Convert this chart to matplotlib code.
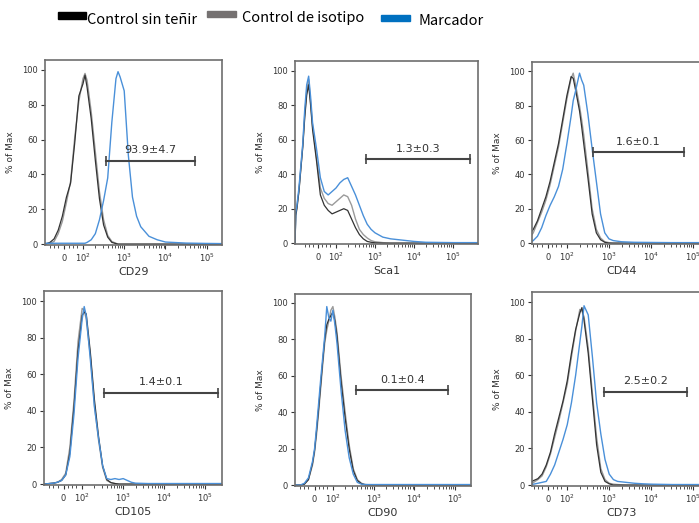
import matplotlib
matplotlib.use("Agg")
import matplotlib.pyplot as plt
from matplotlib.patches import Rectangle
import numpy as np

# x values are in "decade" units of the biexponential axis (2 -> 10^2, 3 -> 10^3 ...)
tick_pos = [1.55, 2, 3, 4, 5]
tick_labels = [r"$0$", r"$10^2$", r"$10^3$", r"$10^4$", r"$10^5$"]

# CD29
cd29_x = [1.08, 1.2, 1.3, 1.4, 1.5, 1.6, 1.7, 1.8, 1.9, 2.0, 2.05, 2.1, 2.2, 2.3, 2.4, 2.5, 2.6,
          2.7, 2.8, 2.85, 2.9, 3.0, 3.1, 3.2, 3.3, 3.4, 3.6, 3.8, 4.0, 4.5, 5.0, 5.37]
cd29_unst = [0, 1, 3, 8, 16, 27, 35, 58, 85, 92, 97, 90, 72, 48, 26, 11, 4,
             1, 0.3, 0, 0, 0, 0, 0, 0, 0, 0, 0, 0, 0, 0, 0]
cd29_iso = [0, 0.5, 1.5, 6, 13, 24, 36, 61, 82, 95, 98, 94, 76, 53, 30, 14, 5,
            1.5, 0.5, 0, 0, 0, 0, 0, 0, 0, 0, 0, 0, 0, 0, 0]
cd29_mark = [0.5, 0.5, 0.5, 0.5, 0.5, 0.5, 0.5, 0.5, 0.5, 0.5, 0.5, 1, 2.5, 6, 14, 25, 38,
             70, 95, 99, 96, 88, 51, 27, 16, 10, 4.5, 2.5, 1.2, 0.6, 0.4, 0.3]

# Sca1
sca1_x = [0.95, 0.97, 1.0, 1.05, 1.1, 1.15, 1.2, 1.25, 1.3, 1.35, 1.4, 1.5, 1.6, 1.7, 1.8, 1.9,
          2.0, 2.1, 2.2, 2.3, 2.4, 2.5, 2.6, 2.7, 2.8, 2.9, 3.0, 3.2, 3.4, 3.6, 3.8, 4.0, 4.3,
          5.0, 5.64]
sca1_unst = [0, 16, 20, 30, 43, 56, 73, 86, 92, 80, 66, 48, 28, 22, 19, 17,
             18, 19, 20, 19, 14, 9, 5, 2.5, 1, 0.5, 0.2, 0, 0, 0, 0, 0, 0, 0, 0]
sca1_iso = [0, 17, 22, 30, 44, 57, 75, 88, 95, 82, 68, 50, 32, 26, 23, 22,
            24, 26, 28, 27, 22, 14, 8, 5, 3, 1.5, 0.8, 0.3, 0, 0, 0, 0, 0, 0, 0]
sca1_mark = [0, 18, 22, 32, 45, 58, 78, 92, 97, 85, 70, 55, 38, 30, 28, 30,
             32, 35, 37, 38, 33, 28, 22, 16, 11, 8, 6, 3.5, 2.5, 2, 1.5, 1, 0.5, 0.3, 0.3]

# CD44
cd44_x = [1.17, 1.2, 1.3, 1.4, 1.5, 1.6, 1.7, 1.8, 1.9, 2.0, 2.1, 2.15, 2.2, 2.3, 2.35, 2.4,
          2.5, 2.6, 2.7, 2.8, 2.9, 3.0, 3.1, 3.3, 3.6, 4.0, 4.5, 5.0, 5.45]
cd44_unst = [7, 8, 13, 20, 27, 36, 47, 58, 72, 86, 97, 96, 90, 77, 68, 58,
             38, 17, 6, 2, 0.5, 0, 0, 0, 0, 0, 0, 0, 0]
cd44_iso = [5, 6, 12, 18, 25, 34, 45, 56, 70, 84, 96, 99, 93, 80, 72, 63,
            42, 20, 8, 3, 0.8, 0.3, 0, 0, 0, 0, 0, 0, 0]
cd44_mark = [1, 1.5, 4, 9, 16, 22, 27, 33, 43, 58, 74, 83, 88, 99, 95, 92,
             75, 55, 36, 17, 6, 2.5, 1.5, 0.8, 0.5, 0.4, 0.3, 0.3, 0.3]

# CD105
cd105_x = [1.07, 1.2, 1.3, 1.4, 1.5, 1.6, 1.7, 1.8, 1.9, 2.0, 2.05, 2.1, 2.2, 2.3, 2.4, 2.5,
           2.6, 2.7, 2.8, 2.9, 3.0, 3.1, 3.2, 3.3, 3.6, 4.0, 4.5, 5.0, 5.41]
cd105_unst = [0, 0.3, 0.5, 1, 2, 5, 17, 42, 73, 92, 94, 93, 72, 46, 26, 10,
              2.5, 0.8, 0.3, 0, 0, 0, 0, 0, 0, 0, 0, 0, 0]
cd105_iso = [0, 0.3, 0.5, 1, 2.5, 6, 20, 45, 78, 96, 95, 90, 70, 43, 24, 9,
             2, 0.8, 0.3, 0, 0, 0, 0, 0, 0, 0, 0, 0, 0]
cd105_mark = [0, 0.3, 0.5, 1, 2, 5, 15, 38, 69, 90, 97, 92, 68, 42, 25, 10,
              3, 2.5, 3, 2.5, 3, 2, 1, 0.5, 0.3, 0.3, 0.3, 0.3, 0.3]

# CD90
cd90_x = [1.07, 1.2, 1.3, 1.4, 1.5, 1.55, 1.6, 1.65, 1.7, 1.75, 1.8, 1.85, 1.9, 1.95, 2.0, 2.05,
          2.1, 2.2, 2.3, 2.4, 2.5, 2.6, 2.7, 2.8, 3.0, 3.5, 4.0, 4.5, 5.0, 5.39]
cd90_unst = [0, 0, 0.5, 3, 12, 19, 30, 42, 55, 68, 80, 88, 91, 93, 95, 90,
             82, 57, 37, 20, 8, 2.5, 0.8, 0, 0, 0, 0, 0, 0, 0]
cd90_iso = [0, 0, 0.5, 3, 11, 18, 28, 40, 53, 66, 78, 85, 90, 96, 98, 92,
            84, 60, 40, 22, 9, 3, 1, 0.3, 0, 0, 0, 0, 0, 0]
cd90_mark = [0, 0, 1, 4, 13, 20, 32, 45, 58, 70, 82, 98, 92, 90, 96, 88,
             78, 52, 30, 15, 6, 1.5, 0.5, 0.3, 0.3, 0.3, 0.3, 0.3, 0.3, 0.3]

# CD73
cd73_x = [1.16, 1.2, 1.3, 1.4, 1.5, 1.6, 1.7, 1.8, 1.9, 2.0, 2.1, 2.2, 2.3, 2.35, 2.4, 2.5,
          2.6, 2.7, 2.8, 2.9, 3.0, 3.1, 3.2, 3.4, 3.6, 3.8, 4.0, 4.5, 5.0, 5.45]
cd73_unst = [2, 2.5, 3.5, 6, 11, 18, 28, 37, 46, 57, 72, 85, 94, 97, 90, 72,
             47, 22, 7, 2, 0.7, 0, 0, 0, 0, 0, 0, 0, 0, 0]
cd73_iso = [1, 1.5, 3, 5, 10, 17, 26, 35, 45, 55, 70, 84, 96, 95, 92, 75,
            50, 26, 9, 3, 1, 0.5, 0.3, 0, 0, 0, 0, 0, 0, 0]
cd73_mark = [0.5, 0.5, 1, 1.5, 2, 6, 11, 18, 25, 33, 45, 60, 78, 87, 98, 93,
             70, 45, 28, 14, 6, 3, 2, 1.5, 1, 0.7, 0.5, 0.3, 0.3, 0.3]

markers = ["CD29", "Sca1", "CD44", "CD105", "CD90", "CD73"]
gate_text = ["93.9+4.7", "1.3+0.3", "1.6+0.1", "1.4+0.1", "0.1+0.4", "2.5+0.2"]
gate_start = [2.56, 2.77, 2.62, 2.54, 2.57, 2.88]
gate_end = [4.71, 5.44, 4.79, 5.32, 4.83, 4.85]
gate_y = [48, 49, 53, 50, 52, 51]

xs = [cd29_x, sca1_x, cd44_x, cd105_x, cd90_x, cd73_x]
unst = [cd29_unst, sca1_unst, cd44_unst, cd105_unst, cd90_unst, cd73_unst]
iso = [cd29_iso, sca1_iso, cd44_iso, cd105_iso, cd90_iso, cd73_iso]
mark = [cd29_mark, sca1_mark, cd44_mark, cd105_mark, cd90_mark, cd73_mark]

W, H = 699, 523
# panel boxes in pixels: left, top, right, bottom
boxes = [(45, 60, 222, 245), (295, 61, 478, 244), (532, 62, 712, 244),
         (44, 291, 222, 485), (295, 294, 471, 486), (532, 292, 712, 486)]
xlims = [(1.08, 5.37), (0.95, 5.64), (1.17, 5.45), (1.07, 5.41), (1.07, 5.39), (1.16, 5.45)]
ytops = [105.7, 105.8, 105.5, 105.5, 104.9, 105.5]

minor = [1.2, 1.3, 1.4, 1.65, 1.75, 1.85]
for d in [2, 3, 4]:
    for k in range(2, 10):
        minor.append(d + np.log10(k))

fig = plt.figure(figsize=(W / 100, H / 100), dpi=100)

c_unst = "#333333"
c_iso = "#9a9a9a"
c_mark = "#4a90d9"

for i in range(6):
    l, t, r, b = boxes[i]
    ax = fig.add_axes([l / W, 1 - b / H, (r - l) / W, (b - t) / H])
    ax.plot(xs[i], iso[i], color=c_iso, lw=1.0)
    ax.plot(xs[i], unst[i], color=c_unst, lw=0.9)
    ax.plot(xs[i], mark[i], color=c_mark, lw=1.0)

    ax.plot([gate_start[i], gate_end[i]], [gate_y[i], gate_y[i]], color="#444444", lw=1.5,
            marker="|", markersize=7, markeredgewidth=1.2)
    ax.text((gate_start[i] + gate_end[i]) / 2, gate_y[i] + 3, gate_text[i].replace("+", "±"),
            ha="center", va="bottom", fontsize=8, color="#333333")

    ax.set_xlim(*xlims[i])
    ax.set_ylim(-0.5, ytops[i])
    ax.set_xticks(tick_pos)
    ax.set_xticklabels(tick_labels)
    ax.set_xticks(minor, minor=True)
    ax.set_yticks([0, 20, 40, 60, 80, 100])
    ax.tick_params(axis="both", labelsize=6, colors="#333333", length=3, width=0.8, pad=2)
    ax.tick_params(axis="x", which="minor", length=2, width=0.6, colors="#333333")
    for s in ax.spines.values():
        s.set_color("#6e6e6e")
        s.set_linewidth(1.2)
    ax.set_xlabel(markers[i], fontsize=8, color="#333333", labelpad=2)
    ax.set_ylabel("% of Max", fontsize=6.5, color="#333333", labelpad=5)

# legend at the top
fig.patches.append(Rectangle((58 / W, 1 - 19 / H), 28 / W, 7 / H, transform=fig.transFigure,
                             color="#000000"))
fig.patches.append(Rectangle((207 / W, 1 - 17 / H), 29 / W, 6 / H, transform=fig.transFigure,
                             color="#757171"))
fig.patches.append(Rectangle((381 / W, 1 - 21 / H), 29 / W, 6 / H, transform=fig.transFigure,
                             color="#0070c0"))
lfont = ["Noto Sans CJK SC", "DejaVu Sans"]
fig.text(87 / W, 1 - 20 / H, "Control sin teñir", fontsize=10.5, va="center", family=lfont)
fig.text(242 / W, 1 - 18 / H, "Control de isotipo", fontsize=10.5, va="center", family=lfont)
fig.text(418 / W, 1 - 21 / H, "Marcador", fontsize=10.5, va="center", family=lfont)

fig.savefig("out.png", dpi=100)
